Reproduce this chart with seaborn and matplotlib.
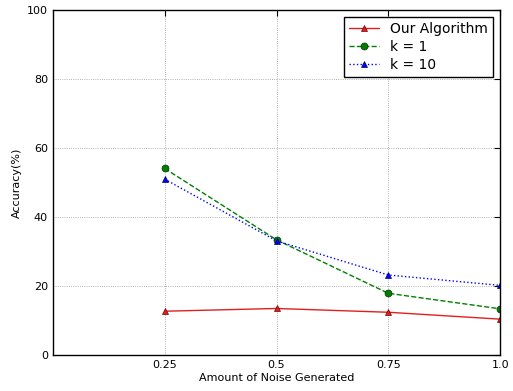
import pandas as pd
import matplotlib
matplotlib.use('Agg')
import matplotlib.pyplot as plt
import seaborn as sns

# Данные
noise = [0.25, 0.5, 0.75, 1.0]
our_alg = [12.7, 13.5, 12.4, 10.4]
k1 = [54.1, 33.4, 17.9, 13.4]
k10 = [51.0, 33.1, 23.2, 20.2]
x_ticks = [0.25, 0.5, 0.75, 1.0]
x_labels = ['0.25', '0.5', '0.75', '1.0']

sns.set_style('white')
plt.rcParams['font.family'] = ['DejaVu Sans']
plt.rcParams['text.color'] = 'black'
plt.rcParams['axes.labelcolor'] = 'black'
plt.rcParams['xtick.color'] = 'black'
plt.rcParams['ytick.color'] = 'black'

fig = plt.figure(figsize=(5.13, 3.91), dpi=100)
ax = fig.add_axes([0.103, 0.092, 0.872, 0.882])

sns.lineplot(x=noise, y=our_alg, ax=ax, color='#e02020', linestyle='-', marker='^',
             markersize=5, markeredgecolor='#700000', markeredgewidth=0.5,
             linewidth=1, label='Our Algorithm')
sns.lineplot(x=noise, y=k1, ax=ax, color='g', linestyle='--', marker='o',
             markersize=5, markeredgecolor='#003000', markeredgewidth=0.5,
             linewidth=1, label='k = 1')
sns.lineplot(x=noise, y=k10, ax=ax, color='b', linestyle=':', marker='^',
             markersize=5, markeredgecolor='#000060', markeredgewidth=0.5,
             linewidth=1, label='k = 10')

ax.set_xlim(0, 1.0)
ax.set_ylim(0, 100)
ax.set_xticks(x_ticks)
ax.set_xticklabels(x_labels)
ax.set_yticks([0, 20, 40, 60, 80, 100])
ax.tick_params(direction='in', top=True, right=True, labelsize=8, length=4)
ax.grid(True, linestyle=':', color='#999999', linewidth=0.6)
for s in ax.spines.values():
    s.set_color('black')
    s.set_linewidth(1)

ax.set_xlabel('Amount of Noise Generated', fontsize=8, labelpad=2)
ax.set_ylabel('Accuracy(%)', fontsize=8)

leg = ax.legend(loc='upper right', fontsize=10, fancybox=False, framealpha=1,
                edgecolor='black', borderaxespad=0.5, handlelength=2.2,
                labelspacing=0.3, borderpad=0.35)
leg.get_frame().set_linewidth(1)

plt.savefig('out.png', dpi=100)
